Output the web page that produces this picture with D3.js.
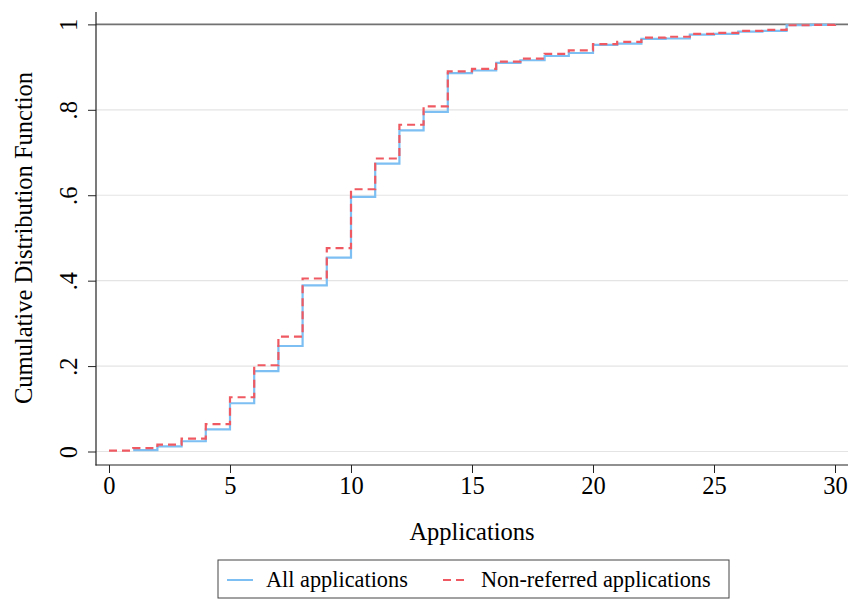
<!DOCTYPE html>
<head>
  <meta charset="utf-8">
  <title>CDF of applications</title>
  <script src="https://d3js.org/d3.v7.min.js"></script>
  <style>
    body { margin: 0; background: #fff; }
    text { font-family: "Liberation Serif", "Times New Roman", serif; fill: #000; }
  </style>
</head>
<body>
  <div id="chart"></div>
  <script>
    // number of applications (x values of the step points)
    var applications = [0, 1, 2, 3, 4, 5, 6, 7, 8, 9, 10, 11, 12, 13, 14, 15,
      16, 17, 18, 19, 20, 21, 22, 23, 24, 25, 26, 27, 28, 29, 30];

    // cumulative share, all applications (no point at 0)
    var allApps = [null, .003, .012, .024, .052, .113, .188, .247, .389, .454, .596,
      .674, .752, .795, .886, .892, .910, .916, .926, .933, .952,
      .955, .966, .967, .976, .978, .983, .985, .998, .999, 1];

    // cumulative share, non-referred applications
    var nonReferred = [.002, .008, .016, .030, .064, .127, .202, .269, .405, .476, .614,
      .686, .765, .808, .890, .896, .913, .920, .931, .939, .954,
      .959, .969, .971, .978, .980, .985, .987, .998, .999, 1];

    var xTicks = [0, 5, 10, 15, 20, 25, 30];
    var yTicks = [0, .2, .4, .6, .8, 1];
    var yTickLabels = ['0', '.2', '.4', '.6', '.8', '1'];

    var width = 850, height = 601;

    var svg = d3.select('#chart').append('svg')
      .attr('width', width)
      .attr('height', height);

    // plot region: left 96, right 848, top 12, bottom 465
    var x = d3.scaleLinear().domain([-0.537, 30.537]).range([96, 848]);
    var y = d3.scaleLinear().domain([-0.0316, 1.029]).range([465, 12]);

    // horizontal grid lines
    svg.append('g')
      .selectAll('line')
      .data(yTicks)
      .enter().append('line')
        .attr('x1', 96).attr('x2', 848)
        .attr('y1', function (d) { return y(d); })
        .attr('y2', function (d) { return y(d); })
        .attr('stroke', function (d) { return d === 1 ? '#727272' : '#e4e4e4'; })
        .attr('stroke-width', function (d) { return d === 1 ? 1.8 : 1.2; });

    // x axis
    var xAxis = d3.axisBottom(x)
      .tickValues(xTicks)
      .tickSize(8)
      .tickPadding(4);
    var gx = svg.append('g')
      .attr('transform', 'translate(0,465)')
      .call(xAxis);
    gx.select('.domain').remove();
    gx.selectAll('line').attr('stroke', '#222');
    gx.selectAll('text').style('font-size', '24.5px')
      .style('font-family', '"Liberation Serif", serif');

    // y axis with rotated labels
    var yAxis = d3.axisLeft(y)
      .tickValues(yTicks)
      .tickFormat(function (d, i) { return yTickLabels[i]; })
      .tickSize(8);
    var gy = svg.append('g')
      .attr('transform', 'translate(96,0)')
      .call(yAxis);
    gy.select('.domain').remove();
    gy.selectAll('line').attr('stroke', '#222');
    gy.selectAll('text')
      .attr('x', null).attr('dy', null)
      .attr('text-anchor', 'middle')
      .attr('transform', 'translate(-19,0) rotate(-90)')
      .style('font-size', '24.5px')
      .style('font-family', '"Liberation Serif", serif');

    // axis lines
    svg.append('line')
      .attr('x1', 96).attr('x2', 96).attr('y1', 12).attr('y2', 465.5)
      .attr('stroke', '#222').attr('stroke-width', 1.2);
    svg.append('line')
      .attr('x1', 95.5).attr('x2', 848).attr('y1', 465).attr('y2', 465)
      .attr('stroke', '#222').attr('stroke-width', 1.2);

    // step lines
    var step = d3.line()
      .defined(function (d) { return d[1] !== null; })
      .x(function (d) { return x(d[0]); })
      .y(function (d) { return y(d[1]); })
      .curve(d3.curveStepAfter);

    svg.append('path')
      .datum(applications.map(function (a, i) { return [a, allApps[i]]; }))
      .attr('fill', 'none')
      .attr('stroke', '#7dbff2')
      .attr('stroke-width', 2.2)
      .attr('d', step);

    svg.append('path')
      .datum(applications.map(function (a, i) { return [a, nonReferred[i]]; }))
      .attr('fill', 'none')
      .attr('stroke', '#ef5a62')
      .attr('stroke-width', 2.2)
      .attr('stroke-dasharray', '8,5')
      .attr('d', step);

    // axis titles
    svg.append('text')
      .attr('x', 472).attr('y', 540)
      .attr('text-anchor', 'middle')
      .style('font-size', '24.5px')
      .text('Applications');

    svg.append('text')
      .attr('transform', 'translate(32,238) rotate(-90)')
      .attr('text-anchor', 'middle')
      .style('font-size', '24.5px')
      .text('Cumulative Distribution Function');

    // legend
    var legend = svg.append('g');
    legend.append('rect')
      .attr('x', 218).attr('y', 560)
      .attr('width', 511).attr('height', 38)
      .attr('fill', '#fff')
      .attr('stroke', '#444').attr('stroke-width', 1);
    legend.append('line')
      .attr('x1', 227).attr('x2', 253).attr('y1', 580).attr('y2', 580)
      .attr('stroke', '#7dbff2').attr('stroke-width', 2);
    legend.append('text')
      .attr('x', 266).attr('y', 587)
      .style('font-size', '22.3px')
      .text('All applications');
    legend.append('line')
      .attr('x1', 443).attr('x2', 469).attr('y1', 580).attr('y2', 580)
      .attr('stroke', '#ef5a62').attr('stroke-width', 2)
      .attr('stroke-dasharray', '8,5');
    legend.append('text')
      .attr('x', 481).attr('y', 587)
      .style('font-size', '22.3px')
      .text('Non-referred applications');
  </script>
</body>
